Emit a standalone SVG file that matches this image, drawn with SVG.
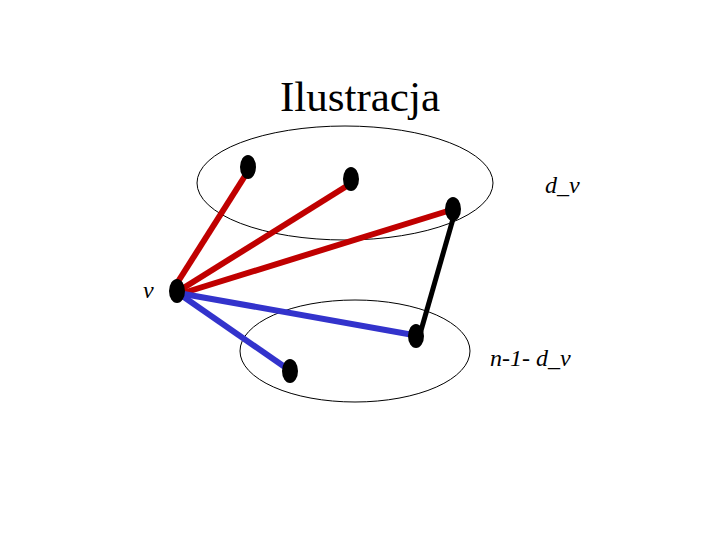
<svg xmlns="http://www.w3.org/2000/svg" width="720" height="540" viewBox="0 0 720 540">
<style>
.set{fill:none;stroke:#000;stroke-width:1}
.node{fill:#000}
.red{stroke:#c00000;stroke-width:6;stroke-linecap:butt}
.blue{stroke:#3333cc;stroke-width:6}
.blk{stroke:#000;stroke-width:5}
.lbl{font-style:italic;font-size:24px;fill:#000}
.title{font-size:43px;fill:#000}
</style>
<rect width="720" height="540" fill="#fff"/>
<text class="title" font-family="'Liberation Serif','Times New Roman','DejaVu Serif',serif" x="360" y="111" text-anchor="middle">Ilustracja</text>
<g id="sets">
<ellipse class="set" cx="345" cy="183" rx="148" ry="57"/>
<ellipse class="set" cx="355" cy="351" rx="115" ry="51"/>
</g>
<g id="connectors">
<line class="red" x1="174" y1="288" x2="250" y2="168"/>
<line class="red" x1="177" y1="292" x2="350" y2="184"/>
<line class="red" x1="180" y1="294" x2="451" y2="210"/>
<line class="blue" x1="178" y1="293" x2="419" y2="336"/>
<line class="blue" x1="178" y1="293" x2="292" y2="372"/>
<line class="blk" x1="455" y1="212" x2="420" y2="334"/>
</g>
<g id="n1"><ellipse class="node" cx="248" cy="167" rx="8" ry="12"/></g>
<g id="n2"><ellipse class="node" cx="351" cy="179" rx="8" ry="12"/></g>
<g id="n3"><ellipse class="node" cx="453" cy="209" rx="8" ry="12"/></g>
<g id="v"><ellipse class="node" cx="177" cy="291" rx="8" ry="12"/><text class="lbl" font-family="'Liberation Serif','Times New Roman','DejaVu Serif',serif" x="143" y="298">v</text></g>
<g id="n5"><ellipse class="node" cx="416" cy="336" rx="8" ry="12"/></g>
<g id="n6"><ellipse class="node" cx="290" cy="371" rx="8" ry="12"/></g>
<text class="lbl" font-family="'Liberation Serif','Times New Roman','DejaVu Serif',serif" x="545" y="193">d_v</text>
<text class="lbl" font-family="'Liberation Serif','Times New Roman','DejaVu Serif',serif" x="490" y="366">n-1- d_v</text>
</svg>
